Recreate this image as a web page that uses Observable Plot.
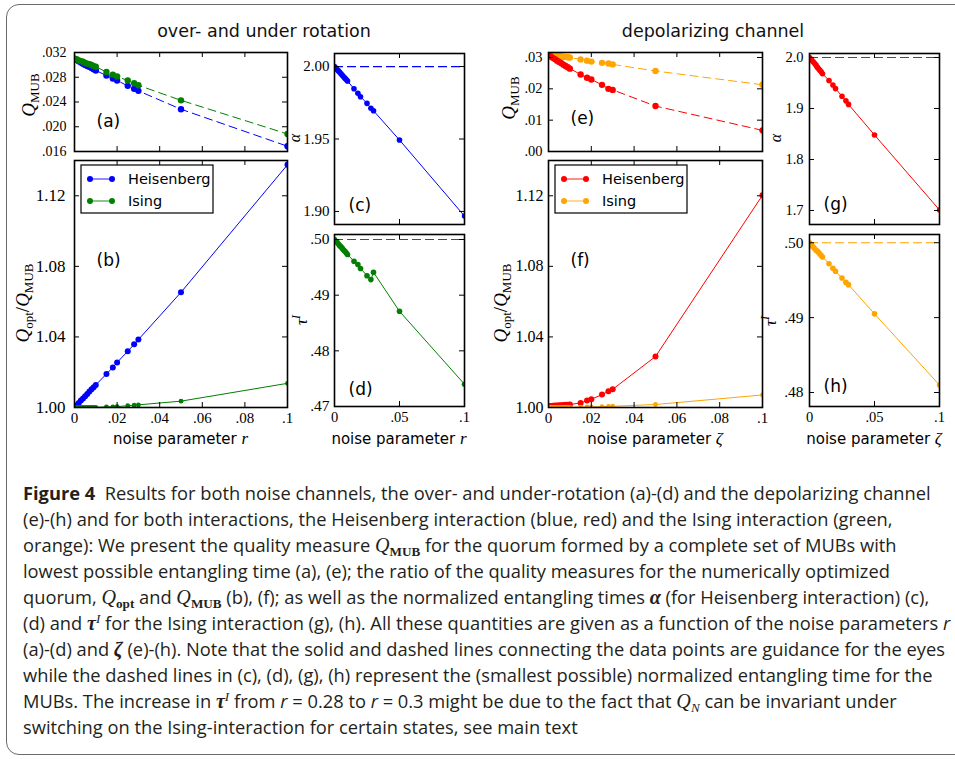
<!DOCTYPE html>
<html><head><meta charset="utf-8">
<script src="https://cdn.jsdelivr.net/npm/d3@7"></script>
<script src="https://cdn.jsdelivr.net/npm/@observablehq/plot@0.6"></script>
<style>
html,body{margin:0;padding:0;background:#fff;width:955px;height:759px;overflow:hidden;}
#root{position:relative;width:955px;height:759px;}
#border{position:absolute;left:6px;top:4px;width:1000px;height:751px;border:1.5px solid #6a6a6a;border-radius:13px;box-sizing:border-box;}
.title{position:absolute;top:21px;font-family:"DejaVu Sans";font-size:17.5px;line-height:20px;color:#111;white-space:nowrap;transform:translateX(-50%);}
#caption{position:absolute;left:23px;top:480px;font-family:"Open Sans";font-size:18.3px;line-height:26px;color:#231f20;white-space:nowrap;}
#caption .q{font-family:"Liberation Serif";font-style:italic;font-size:1.1em;}
#caption sub{font-family:"Liberation Serif";font-weight:bold;font-size:0.72em;vertical-align:-0.3em;line-height:0;}
#caption sup{font-family:"Liberation Serif";font-style:italic;font-size:0.72em;vertical-align:0.55em;line-height:0;}
#caption .g{font-family:"Liberation Serif";font-style:italic;font-weight:bold;font-size:1.1em;}
</style></head>
<body><div id="root">
<div id="border"></div>
<div class="title" style="left:264px">over- and under rotation</div>
<div class="title" style="left:713px">depolarizing channel</div>
<div id="caption">
<div><b>Figure 4</b>&nbsp; Results for both noise channels, the over- and under-rotation (a)-(d) and the depolarizing channel</div>
<div>(e)-(h) and for both interactions, the Heisenberg interaction (blue, red) and the Ising interaction (green,</div>
<div>orange): We present the quality measure <span class="q">Q</span><sub>MUB</sub> for the quorum formed by a complete set of MUBs with</div>
<div>lowest possible entangling time (a), (e); the ratio of the quality measures for the numerically optimized</div>
<div>quorum, <span class="q">Q</span><sub>opt</sub> and <span class="q">Q</span><sub>MUB</sub> (b), (f); as well as the normalized entangling times <span class="g">α</span> (for Heisenberg interaction) (c),</div>
<div>(d) and <span class="g">τ</span><sup>I</sup> for the Ising interaction (g), (h). All these quantities are given as a function of the noise parameters <i>r</i></div>
<div>(a)-(d) and <span class="g">ζ</span> (e)-(h). Note that the solid and dashed lines connecting the data points are guidance for the eyes</div>
<div>while the dashed lines in (c), (d), (g), (h) represent the (smallest possible) normalized entangling time for the</div>
<div>MUBs. The increase in <span class="g">τ</span><sup>I</sup> from <i>r</i> = 0.28 to <i>r</i> = 0.3 might be due to the fact that <span class="q">Q</span><sub style="font-style:italic;font-weight:normal">N</sub> can be invariant under</div>
<div>switching on the Ising-interaction for certain states, see main text</div>
</div>
</div>
<script>
// ---------- data ----------
const noise = [0, 0.001, 0.002, 0.003, 0.004, 0.005, 0.006, 0.007, 0.008, 0.009, 0.010, 0.015, 0.018, 0.020, 0.025, 0.028, 0.030, 0.050, 0.100];
// over- and under rotation
const rotQmubHeis  = [0.0310, 0.0308, 0.0306, 0.0304, 0.0302, 0.0300, 0.0298, 0.0297, 0.0295, 0.0293, 0.0291, 0.02827, 0.02779, 0.02747, 0.02661, 0.02613, 0.0258, 0.02283, 0.01685];
const rotQmubIsing = [0.0310, 0.0309, 0.0307, 0.0306, 0.0305, 0.0303, 0.0302, 0.0301, 0.0300, 0.0298, 0.0297, 0.02885, 0.02843, 0.02811, 0.02747, 0.02704, 0.0267, 0.02427, 0.01883];
const rotRatioHeis  = [1.0000, 1.0013, 1.0026, 1.0039, 1.0051, 1.0064, 1.0077, 1.0090, 1.0103, 1.0115, 1.0128, 1.0190, 1.0227, 1.0255, 1.0319, 1.0358, 1.0385, 1.0653, 1.1376];
const rotRatioIsing = [1.0000, 1.0000, 1.0000, 1.0000, 1.0000, 1.0000, 1.0000, 1.0001, 1.0001, 1.0001, 1.0001, 1.0003, 1.0004, 1.0005, 1.0010, 1.0013, 1.0015, 1.0036, 1.0137];
const rotAlphaHeis = [2.000, 1.999, 1.998, 1.997, 1.996, 1.995, 1.994, 1.993, 1.992, 1.991, 1.990, 1.9847, 1.9815, 1.9792, 1.9746, 1.9712, 1.9695, 1.9493, 1.8968];
const rotTauIsing  = [0.5000, 0.4997, 0.4995, 0.4992, 0.4989, 0.4987, 0.4984, 0.4981, 0.4979, 0.4976, 0.4973, 0.4961, 0.4955, 0.4948, 0.4935, 0.4928, 0.4941, 0.4871, 0.4740];
// depolarizing channel
const depQmubHeis  = [0.0308, 0.0303, 0.0299, 0.0295, 0.0290, 0.0286, 0.0282, 0.0277, 0.0273, 0.0269, 0.02645, 0.0246, 0.02354, 0.0230, 0.02128, 0.0200, 0.01967, 0.0145, 0.00675];
const depQmubIsing = [0.0308, 0.0307, 0.0306, 0.0305, 0.0304, 0.0304, 0.0303, 0.0302, 0.0302, 0.0301, 0.0300, 0.0294, 0.0290, 0.0287, 0.0283, 0.0281, 0.0278, 0.0257, 0.0213];
const depRatioHeis  = [1.0008, 1.0009, 1.0010, 1.0011, 1.0012, 1.0013, 1.0013, 1.0014, 1.0015, 1.0016, 1.0017, 1.0026, 1.0039, 1.0047, 1.0073, 1.0092, 1.0103, 1.0289, 1.1203];
const depRatioIsing = [1.0000, 1.0000, 1.0000, 1.0000, 1.0000, 1.0000, 1.0001, 1.0001, 1.0001, 1.0001, 1.0001, 1.0002, 1.0003, 1.0003, 1.0005, 1.0006, 1.0007, 1.0017, 1.0071];
const depAlphaHeis = [2.000, 1.997, 1.994, 1.991, 1.988, 1.985, 1.981, 1.978, 1.975, 1.972, 1.968, 1.955, 1.946, 1.939, 1.924, 1.915, 1.908, 1.848, 1.701];
const depTauIsing  = [0.5000, 0.4998, 0.4996, 0.4994, 0.4992, 0.4990, 0.4989, 0.4987, 0.4985, 0.4983, 0.4981, 0.4972, 0.4966, 0.4962, 0.4953, 0.4947, 0.4944, 0.4905, 0.4810];
// MUB (smallest possible) normalized entangling times
const alphaMUB = [2.0];
const tauMUB = [0.5];
// series names
const seriesNames = ["Heisenberg", "Ising"];
// ticks
const xTicksWide = [0, 0.02, 0.04, 0.06, 0.08, 0.1];
const xLabelsWide = ["0", ".02", ".04", ".06", ".08", ".1"];
const xTicksNarrow = [0, 0.05, 0.1];
const xLabelsNarrow = ["0", ".05", ".1"];
const yTicksA = [0.016, 0.020, 0.024, 0.028, 0.032];
const yLabelsA = [".016", ".020", ".024", ".028", ".032"];
const yTicksB = [1.00, 1.04, 1.08, 1.12];
const yLabelsB = ["1.00", "1.04", "1.08", "1.12"];
const yTicksC = [1.90, 1.95, 2.00];
const yLabelsC = ["1.90", "1.95", "2.00"];
const yTicksD = [0.47, 0.48, 0.49, 0.50];
const yLabelsD = [".47", ".48", ".49", ".50"];
const yTicksE = [0, 0.01, 0.02, 0.03];
const yLabelsE = [".00", ".01", ".02", ".03"];
const yTicksG = [1.7, 1.8, 1.9, 2.0];
const yLabelsG = ["1.7", "1.8", "1.9", "2.0"];
const yTicksH = [0.48, 0.49, 0.50];
const yLabelsH = [".48", ".49", ".50"];

// ---------- styling ----------
const BLUE = "#0000ff", GREEN = "#008000", RED = "#ff0000", ORANGE = "#ffa500";
const root = document.getElementById("root");
const rows = (a, b) => noise.map((x, i) => ({x, a: a[i], b: b ? b[i] : null}));

function panel(cfg) {
  const [x0, y0, x1, y1] = cfg.box;
  const mL = 70, mR = 12, mT = 12, mB = 50;
  const W = x1 - x0, H = y1 - y0;
  const xt = cfg.xTicks, yt = cfg.yTicks;
  const marks = [
    ...cfg.marks,
    Plot.tickX(xt, {x: d => d, insetTop: H - 5, stroke: "#000", strokeWidth: 1}),
    Plot.tickX(xt, {x: d => d, insetBottom: H - 5, stroke: "#000", strokeWidth: 1}),
    Plot.tickY(yt, {y: d => d, insetRight: W - 5, stroke: "#000", strokeWidth: 1}),
    Plot.tickY(yt, {y: d => d, insetLeft: W - 5, stroke: "#000", strokeWidth: 1}),
    Plot.frame({stroke: "#000", strokeWidth: 1.6}),
    Plot.text(yt, {y: d => d, text: (d, i) => cfg.yLabels[i], frameAnchor: "left", dx: -cfg.yPad, textAnchor: "end", lineAnchor: "middle",
      fontSize: cfg.yFs, fontFamily: "Liberation Serif", fill: "#000"}),
    Plot.text([cfg.tag], {frameAnchor: "top-left", dx: cfg.tagPos[0], dy: cfg.tagPos[1], textAnchor: "start", lineAnchor: "bottom", fontFamily: "DejaVu Sans", fontSize: 17, fill: "#000"})
  ];
  if (cfg.xLabels) marks.push(Plot.text(xt, {x: d => d, text: (d, i) => cfg.xLabels[i], frameAnchor: "bottom", dy: 5, lineAnchor: "top",
      fontSize: cfg.xFs, fontFamily: "Liberation Serif", fill: "#000"}));
  const svg = Plot.plot({
    width: W + mL + mR, height: H + mT + mB,
    marginLeft: mL, marginRight: mR, marginTop: mT, marginBottom: mB,
    style: "background:transparent;overflow:visible;font-family:'Liberation Serif';font-size:14px;color:#000;",
    x: {domain: [0, 0.1], axis: null},
    y: {domain: cfg.yDomain, axis: null},
    marks
  });
  svg.style.position = "absolute";
  svg.style.left = (x0 - mL) + "px";
  svg.style.top = (y0 - mT) + "px";
  root.appendChild(svg);
  return {svg, ox: x0 - mL, oy: y0 - mT, x0, y0, x1, y1};
}

function addText(p, px, py, parts, rotate) {
  const t = d3.select(p.svg).append("text")
    .attr("transform", `translate(${px - p.ox},${py - p.oy})` + (rotate ? ` rotate(${rotate})` : ""))
    .attr("text-anchor", "middle").attr("fill", "#000");
  for (const q of parts) {
    const s = t.append("tspan").text(q.t);
    s.attr("font-family", q.f || "Liberation Serif").attr("font-size", q.s || 18);
    if (q.i) s.attr("font-style", "italic");
    if (q.dy) s.attr("dy", q.dy);
  }
}
const Q = {t: "Q", i: true, s: 19};
const sub = (t) => ({t, s: 13, dy: 4});
const back = (t, extra) => Object.assign({t, dy: -4}, extra || {});

function xLabel(p, sym) {
  addText(p, (p.x0 + p.x1) / 2, 444, [
    {t: "noise parameter ", f: "DejaVu Sans", s: 15},
    {t: sym, i: true, s: 17}
  ]);
}

function legend(p, colors) {
  const g = d3.select(p.svg).append("g").attr("transform", `translate(${p.x0 - p.ox + 7},${p.y0 - p.oy + 5})`);
  g.append("rect").attr("width", 132).attr("height", 48).attr("fill", "#fff").attr("stroke", "#000").attr("stroke-width", 1.2);
  seriesNames.forEach((name, i) => {
    const yy = 14 + i * 22;
    g.append("line").attr("x1", 9).attr("x2", 31).attr("y1", yy).attr("y2", yy).attr("stroke", colors[i]).attr("stroke-opacity", 0.6).attr("stroke-width", 1.5);
    g.append("circle").attr("cx", 9).attr("cy", yy).attr("r", 3).attr("fill", colors[i]);
    g.append("circle").attr("cx", 31).attr("cy", yy).attr("r", 3).attr("fill", colors[i]);
    g.append("text").attr("x", 47).attr("y", yy).attr("dy", "0.36em").attr("text-anchor", "start")
      .attr("font-family", "DejaVu Sans").attr("font-size", 14.5).attr("fill", "#000").text(name);
  });
}

const lineDot = (data, key, color, r, dash) => [
  Plot.line(data, {x: "x", y: key, stroke: color, strokeWidth: 1, strokeDasharray: dash, clip: true}),
  Plot.dot(data, {x: "x", y: key, fill: color, r, clip: true})
];
const mubRule = (v, color) => Plot.ruleY(v, {y: d => d, stroke: color, strokeWidth: 1.2, strokeDasharray: "9,4"});

// ---------- panels ----------
const dA = rows(rotQmubHeis, rotQmubIsing);
const pA = panel({box: [74, 52, 287, 151], yDomain: [0.016, 0.032], xTicks: xTicksWide, yTicks: yTicksA, yLabels: yLabelsA,
  yFs: 14, yPad: 8, tag: "(a)", tagPos: [22, 74],
  marks: [...lineDot(dA, "a", BLUE, 3.2, "8,5"), ...lineDot(dA, "b", GREEN, 3.2, "8,5")]});
addText(pA, 35, 95, [Q, sub("MUB")], -90);

const dB = rows(rotRatioHeis, rotRatioIsing);
const pB = panel({box: [74, 160, 287, 407], yDomain: [1.0, 1.14], xTicks: xTicksWide, xLabels: xLabelsWide, yTicks: yTicksB, yLabels: yLabelsB,
  yFs: 17, xFs: 15, yPad: 9, tag: "(b)", tagPos: [22, 105],
  marks: [...lineDot(dB, "a", BLUE, 3, null), ...lineDot(dB, "b", GREEN, 2.4, null)]});
addText(pB, 29, 303, [Q, sub("opt"), back("/", {s: 19}), Q, sub("MUB")], -90);
xLabel(pB, "r");
legend(pB, [BLUE, GREEN]);

const dC = rows(rotAlphaHeis);
const pC = panel({box: [334, 53, 464, 224], yDomain: [1.891, 2.009], xTicks: xTicksNarrow, yTicks: yTicksC, yLabels: yLabelsC,
  yFs: 15, yPad: 5, tag: "(c)", tagPos: [14, 157],
  marks: [mubRule(alphaMUB, BLUE), ...lineDot(dC, "a", BLUE, 2.8, null)]});
addText(pC, 300, 138, [{t: "α", i: true, s: 16}], -90);

const dD = rows(rotTauIsing);
const pD = panel({box: [334, 234, 464, 406], yDomain: [0.47, 0.5009], xTicks: xTicksNarrow, xLabels: xLabelsNarrow, yTicks: yTicksD, yLabels: yLabelsD,
  yFs: 15.5, xFs: 14.5, yPad: 5, tag: "(d)", tagPos: [14, 160],
  marks: [mubRule(tauMUB, GREEN), ...lineDot(dD, "a", GREEN, 2.8, null)]});
addText(pD, 307, 320, [{t: "τ", i: true, s: 17}, {t: "I", i: true, s: 12, dy: -7}], -90);
xLabel(pD, "r");

const dE = rows(depQmubHeis, depQmubIsing);
const pE = panel({box: [548, 52, 762, 151], yDomain: [0, 0.0316], xTicks: xTicksWide, yTicks: yTicksE, yLabels: yLabelsE,
  yFs: 14.5, yPad: 6, tag: "(e)", tagPos: [22, 71],
  marks: [...lineDot(dE, "b", ORANGE, 3.2, "8,5"), ...lineDot(dE, "a", RED, 3.2, "8,5")]});
addText(pE, 515, 98, [Q, sub("MUB")], -90);

const dF = rows(depRatioHeis, depRatioIsing);
const pF = panel({box: [548, 160, 762, 407], yDomain: [1.0, 1.14], xTicks: xTicksWide, xLabels: xLabelsWide, yTicks: yTicksB, yLabels: yLabelsB,
  yFs: 16, xFs: 15, yPad: 5, tag: "(f)", tagPos: [22, 105],
  marks: [...lineDot(dF, "a", RED, 3, null), ...lineDot(dF, "b", ORANGE, 2.4, null)]});
addText(pF, 507, 303, [Q, sub("opt"), back("/", {s: 19}), Q, sub("MUB")], -90);
xLabel(pF, "ζ");
legend(pF, [RED, ORANGE]);

const dG = rows(depAlphaHeis);
const pG = panel({box: [809, 53, 939, 224], yDomain: [1.6725, 2.0078], xTicks: xTicksNarrow, yTicks: yTicksG, yLabels: yLabelsG,
  yFs: 14.5, yPad: 6, tag: "(g)", tagPos: [14, 156],
  marks: [mubRule(alphaMUB, RED), ...lineDot(dG, "a", RED, 2.8, null)]});
addText(pG, 781, 138, [{t: "α", i: true, s: 16}], -90);

const dH = rows(depTauIsing);
const pH = panel({box: [809, 234, 939, 406], yDomain: [0.47813, 0.5011], xTicks: xTicksNarrow, xLabels: xLabelsNarrow, yTicks: yTicksH, yLabels: yLabelsH,
  yFs: 15.5, xFs: 14.5, yPad: 6, tag: "(h)", tagPos: [14, 157],
  marks: [mubRule(tauMUB, ORANGE), ...lineDot(dH, "a", ORANGE, 2.8, null)]});
addText(pH, 776, 321, [{t: "τ", i: true, s: 17}, {t: "I", i: true, s: 12, dy: -7}], -90);
xLabel(pH, "ζ");
</script>
</body></html>
